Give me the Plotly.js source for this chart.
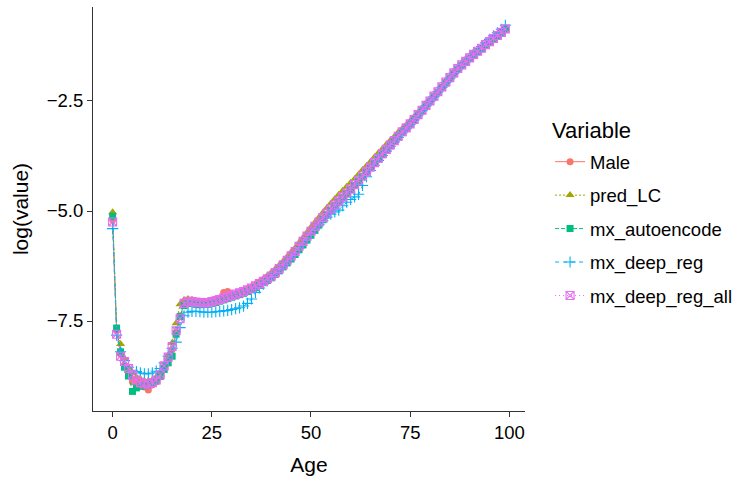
<!DOCTYPE html>
<html>
<head>
<meta charset="utf-8">
<script src="https://cdn.plot.ly/plotly-3.0.1.min.js"></script>
<style>html,body{margin:0;padding:0;background:#fff;}#chart{width:738px;height:482px;}</style>
</head>
<body>
<div id="chart"></div>
<script>
var ages = [];
for (var a = 0; a <= 99; a++) ages.push(a);

var seriesNames = ["Male", "pred_LC", "mx_autoencode", "mx_deep_reg", "mx_deep_reg_all"];

var male = [-5.2,-7.72,-8.25,-8.5,-8.68,-8.88,-8.92,-8.98,-9.0,-9.07,
-8.95,-8.88,-8.7,-8.58,-8.38,-8.15,-7.75,-7.38,-7.12,-7.05,
-7.02,-7.06,-7.08,-7.05,-7.1,-7.04,-7.0,-6.98,-6.85,-6.83,
-6.9,-6.88,-6.84,-6.82,-6.78,-6.73,-6.7,-6.64,-6.58,-6.52,
-6.48,-6.4,-6.29,-6.2,-6.12,-6.0,-5.9,-5.79,-5.66,-5.57,
-5.46,-5.36,-5.26,-5.17,-5.1,-4.98,-4.88,-4.78,-4.7,-4.6,
-4.5,-4.42,-4.31,-4.22,-4.1,-4.01,-3.92,-3.81,-3.71,-3.62,
-3.5,-3.41,-3.32,-3.2,-3.12,-3.03,-2.93,-2.82,-2.72,-2.6,
-2.5,-2.4,-2.3,-2.19,-2.06,-1.98,-1.86,-1.77,-1.69,-1.61,
-1.52,-1.45,-1.37,-1.3,-1.24,-1.16,-1.09,-1.03,-0.95,-0.88];

var predLC = [-5.03,-7.7,-8.02,-8.35,-8.55,-8.68,-8.78,-8.82,-8.86,-8.86,
-8.84,-8.78,-8.66,-8.5,-8.28,-8.0,-7.55,-7.12,-7.02,-7.0,
-7.02,-7.05,-7.07,-7.08,-7.07,-7.06,-7.04,-7.01,-6.98,-6.95,
-6.92,-6.89,-6.85,-6.81,-6.77,-6.72,-6.66,-6.6,-6.54,-6.47,
-6.4,-6.32,-6.23,-6.14,-6.04,-5.94,-5.84,-5.72,-5.61,-5.49,
-5.37,-5.26,-5.15,-5.04,-4.93,-4.83,-4.73,-4.63,-4.54,-4.45,
-4.36,-4.27,-4.17,-4.07,-3.98,-3.88,-3.78,-3.68,-3.59,-3.49,
-3.4,-3.31,-3.21,-3.13,-3.05,-2.96,-2.87,-2.77,-2.68,-2.58,
-2.48,-2.38,-2.28,-2.18,-2.08,-1.98,-1.88,-1.78,-1.69,-1.6,
-1.52,-1.44,-1.36,-1.29,-1.21,-1.14,-1.07,-1.0,-0.93,-0.84];

var mxAutoencode = [-5.12,-7.66,-8.2,-8.55,-8.75,-9.1,-9.02,-8.98,-8.97,-8.95,
-8.92,-8.86,-8.76,-8.6,-8.45,-8.3,-7.8,-7.4,-7.15,-7.1,
-7.1,-7.12,-7.13,-7.12,-7.12,-7.1,-7.08,-7.05,-7.02,-6.99,
-6.96,-6.93,-6.9,-6.87,-6.83,-6.79,-6.74,-6.69,-6.63,-6.58,
-6.52,-6.44,-6.36,-6.27,-6.18,-6.09,-5.99,-5.88,-5.77,-5.66,
-5.55,-5.44,-5.32,-5.2,-5.09,-4.98,-4.88,-4.79,-4.7,-4.61,
-4.52,-4.42,-4.32,-4.22,-4.12,-4.02,-3.92,-3.82,-3.72,-3.62,
-3.52,-3.42,-3.32,-3.22,-3.12,-3.03,-2.93,-2.83,-2.72,-2.62,
-2.51,-2.41,-2.3,-2.19,-2.09,-1.98,-1.88,-1.78,-1.69,-1.61,
-1.53,-1.45,-1.38,-1.31,-1.23,-1.16,-1.09,-1.02,-0.95,-0.87];

var mxDeepReg = [-5.4,-7.82,-8.2,-8.4,-8.55,-8.62,-8.65,-8.68,-8.7,-8.7,
-8.68,-8.64,-8.58,-8.45,-8.3,-8.12,-7.98,-7.65,-7.38,-7.3,
-7.28,-7.28,-7.29,-7.3,-7.3,-7.3,-7.29,-7.28,-7.27,-7.26,
-7.24,-7.22,-7.2,-7.16,-7.1,-7.0,-6.85,-6.75,-6.66,-6.58,
-6.5,-6.42,-6.33,-6.24,-6.15,-6.05,-5.95,-5.84,-5.73,-5.62,
-5.51,-5.41,-5.31,-5.22,-5.14,-5.07,-5.02,-4.98,-4.88,-4.8,
-4.74,-4.68,-4.62,-4.42,-4.22,-4.08,-3.96,-3.85,-3.74,-3.64,
-3.53,-3.43,-3.33,-3.22,-3.13,-3.03,-2.93,-2.82,-2.72,-2.61,
-2.5,-2.4,-2.29,-2.19,-2.08,-1.98,-1.87,-1.77,-1.68,-1.59,
-1.5,-1.42,-1.34,-1.26,-1.18,-1.1,-1.02,-0.95,-0.87,-0.78];

var mxDeepRegAll = [-5.25,-7.8,-8.3,-8.42,-8.58,-8.73,-8.84,-8.9,-8.93,-8.93,
-8.9,-8.84,-8.72,-8.52,-8.32,-8.08,-7.72,-7.45,-7.1,-7.05,
-7.06,-7.07,-7.08,-7.09,-7.08,-7.06,-7.04,-7.01,-6.98,-6.95,
-6.92,-6.89,-6.86,-6.83,-6.79,-6.75,-6.7,-6.65,-6.6,-6.54,
-6.48,-6.4,-6.31,-6.22,-6.12,-6.02,-5.92,-5.8,-5.69,-5.57,
-5.46,-5.35,-5.25,-5.15,-5.05,-4.95,-4.86,-4.77,-4.68,-4.59,
-4.5,-4.4,-4.3,-4.2,-4.1,-4.0,-3.9,-3.8,-3.7,-3.6,
-3.5,-3.4,-3.3,-3.2,-3.11,-3.02,-2.92,-2.81,-2.71,-2.6,
-2.5,-2.39,-2.29,-2.18,-2.07,-1.97,-1.86,-1.76,-1.68,-1.6,
-1.52,-1.44,-1.37,-1.3,-1.22,-1.15,-1.08,-1.01,-0.94,-0.86];

var xTickVals = [0, 25, 50, 75, 100];
var yTickVals = [-7.5, -5, -2.5];
var yTickText = ["\u22127.5", "\u22125.0", "\u22122.5"];
var legendTitle = "Variable";

var colors = ["#F8766D", "#A3A500", "#00BF7D", "#00B0F6", "#E76BF3"];
var symbols = ["circle", "triangle-up", "square", "cross-thin-open", "square-x-open"];
var sizes = [7, 8, 7, 8, 8];
var dashes = ["solid", "2px,2px", "4px,2px", "4px,4px", "1px,3px"];
var values = [male, predLC, mxAutoencode, mxDeepReg, mxDeepRegAll];

var traces = [];
for (var i = 0; i < 5; i++) {
  traces.push({
    x: ages, y: values[i], name: seriesNames[i], type: "scatter", mode: "lines+markers",
    legendgroup: "g" + i,
    line: {color: colors[i], width: 1, dash: dashes[i]},
    marker: {color: colors[i], symbol: symbols[i], size: sizes[i], line: {color: colors[i], width: (i >= 3 ? 1.1 : 0)}}
  });
}

var font = "Liberation Sans, Arial, Helvetica, sans-serif";
var layout = {
  width: 738, height: 482,
  margin: {l: 93, r: 213, t: 7, b: 71, pad: 0, autoexpand: false},
  paper_bgcolor: "#fff", plot_bgcolor: "#fff",
  font: {family: font, color: "#000"},
  showlegend: true,
  xaxis: {
    range: [-4.95, 103.95], tickvals: xTickVals, ticktext: xTickVals.map(String),
    showgrid: false, zeroline: false, showline: true, linecolor: "#333", linewidth: 1.1,
    ticks: "outside", ticklen: 5, tickwidth: 1, tickcolor: "#333",
    tickfont: {size: 18.5, color: "#000", family: font},
    title: {text: "Age", font: {size: 21, color: "#000", family: font}, standoff: 15}
  },
  yaxis: {
    range: [-9.545, -0.364], tickvals: yTickVals, ticktext: yTickText,
    showgrid: false, zeroline: false, showline: true, linecolor: "#333", linewidth: 1.1,
    ticks: "outside", ticklen: 5, tickwidth: 1, tickcolor: "#333",
    tickfont: {size: 18.5, color: "#000", family: font},
    title: {text: "log(value)", font: {size: 21, color: "#000", family: font}, standoff: 12}
  },
  legend: {
    x: 1.058, y: 0.663, xanchor: "left", yanchor: "top",
    font: {size: 18.5, color: "#000", family: font},
    traceorder: "grouped", tracegroupgap: 6.4,
    bgcolor: "rgba(0,0,0,0)"
  },
  annotations: [{
    text: legendTitle, xref: "paper", yref: "paper", x: 1.058, y: 0.6955,
    xanchor: "left", yanchor: "middle", showarrow: false,
    font: {size: 22, color: "#000", family: font}
  }]
};

Plotly.newPlot("chart", traces, layout, {displayModeBar: false, staticPlot: true});
</script>
</body>
</html>
